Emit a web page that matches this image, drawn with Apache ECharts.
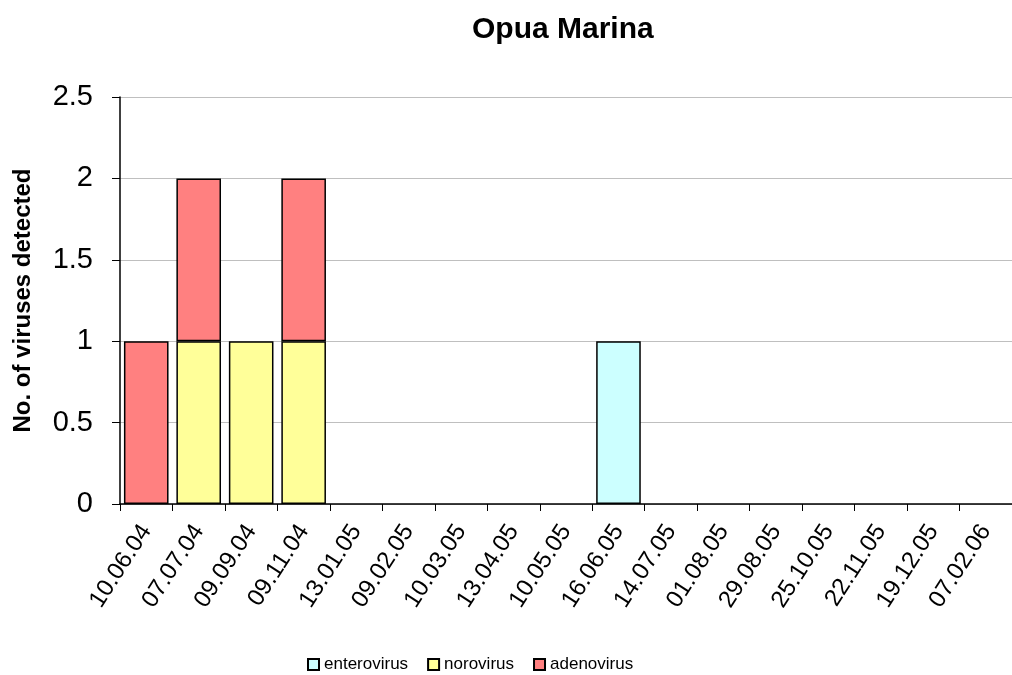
<!DOCTYPE html>
<html>
<head>
<meta charset="utf-8">
<script src="https://cdn.jsdelivr.net/npm/echarts@6/dist/echarts.min.js"></script>
<style>
html,body{margin:0;padding:0;background:#fff;}
#chart{width:1012px;height:675px;}
</style>
</head>
<body>
<div id="chart"></div>
<script>
var categories = ['10.06.04','07.07.04','09.09.04','09.11.04','13.01.05','09.02.05','10.03.05','13.04.05','10.05.05','16.06.05','14.07.05','01.08.05','29.08.05','25.10.05','22.11.05','19.12.05','07.02.06'];
var enterovirus = [0,0,0,0,0,0,0,0,0,1,0,0,0,0,0,0,0];
var norovirus   = [0,1,1,1,0,0,0,0,0,0,0,0,0,0,0,0,0];
var adenovirus  = [1,1,0,1,0,0,0,0,0,0,0,0,0,0,0,0,0];
var yTicks = [0, 0.5, 1, 1.5, 2, 2.5];

var FONT = '"Liberation Sans", Arial, sans-serif';
function nz(arr){ return arr.map(function(v){ return v === 0 ? '-' : v; }); }
function mkSeries(name, data, color){
  return {
    name: name, type: 'bar', stack: 'total', data: nz(data),
    barCategoryGap: '15%',
    itemStyle: { color: color, borderColor: '#000', borderWidth: 1.5 },
    emphasis: { disabled: true }
  };
}
var chart = echarts.init(document.getElementById('chart'));
chart.setOption({
  animation: false,
  backgroundColor: '#fff',
  title: {
    text: 'Opua Marina', left: 467, top: 10,
    textStyle: { fontFamily: FONT, fontSize: 30, fontWeight: 'bold', color: '#000' }
  },
  legend: {
    left: 307, top: 656, padding: 0, itemWidth: 11, itemHeight: 11, itemGap: 19,
    icon: 'rect',
    textStyle: { fontFamily: FONT, fontSize: 17, color: '#000' },
    data: ['enterovirus','norovirus','adenovirus']
  },
  grid: { left: 120, top: 97, bottom: 171, right: -7, containLabel: false },
  xAxis: {
    type: 'category', data: categories,
    axisLine: { lineStyle: { color: '#000', width: 1.5 } },
    axisTick: { show: true, length: 7, lineStyle: { color: '#000' } },
    axisLabel: { rotate: 57, margin: 23, fontFamily: FONT, fontSize: 24, color: '#000', interval: 0 }
  },
  yAxis: {
    type: 'value', min: yTicks[0], max: yTicks[yTicks.length-1], interval: 0.5,
    name: 'No. of viruses detected', nameLocation: 'middle', nameGap: 85,
    nameTextStyle: { fontFamily: FONT, fontSize: 24, fontWeight: 'bold', color: '#000' },
    axisLine: { show: true, lineStyle: { color: '#000', width: 1.5 } },
    axisTick: { show: true, length: 8, lineStyle: { color: '#000' } },
    axisLabel: { margin: 27, fontFamily: FONT, fontSize: 29, color: '#000' },
    splitLine: { show: true, lineStyle: { color: '#bfbfbf', width: 1 } }
  },
  series: [
    mkSeries('enterovirus', enterovirus, '#CCFFFF'),
    mkSeries('norovirus', norovirus, '#FFFF99'),
    mkSeries('adenovirus', adenovirus, '#FF8080')
  ]
});
</script>
</body>
</html>
